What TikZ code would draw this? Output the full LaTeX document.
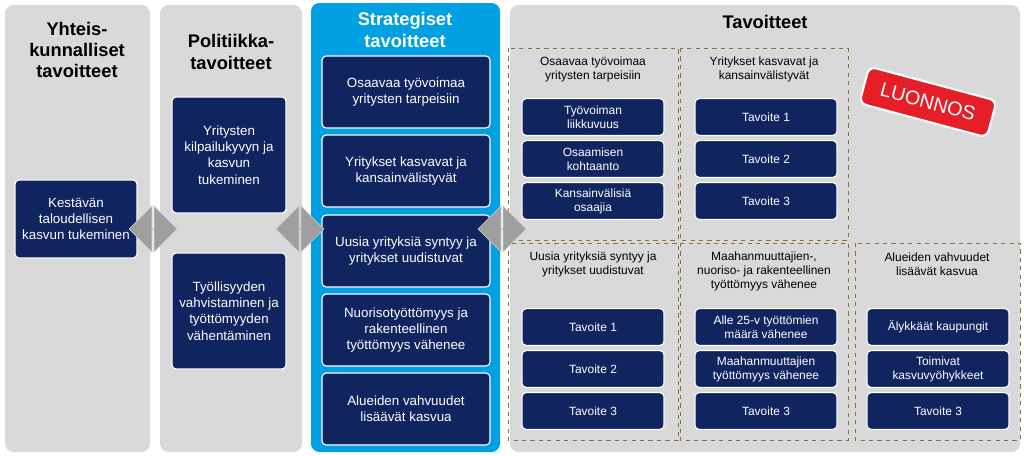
\documentclass[tikz,border=0pt]{standalone}
\usepackage{fontspec}
\setmainfont{Liberation Sans}
\usetikzlibrary{shapes.arrows}
\definecolor{navy}{RGB}{16,36,96}
\definecolor{panelgray}{RGB}{217,217,217}
\definecolor{stratblue}{RGB}{0,160,227}
\definecolor{dashbrown}{RGB}{140,110,60}
\definecolor{stampred}{RGB}{230,30,40}
\begin{document}
\begin{tikzpicture}[x=0.025cm, y=-0.025cm,
  panel/.style={fill=panelgray, rounded corners=6pt, draw=none},
  goal/.style={fill=navy, draw=white, line width=0.8pt, rounded corners=3pt, text=white, align=center, font=\fontsize{9.5}{11.5}\selectfont},
  subgoal/.style={goal, font=\fontsize{8.5}{10}\selectfont, minimum width=3.55cm, minimum height=0.92cm},
  heading/.style={font=\bfseries\fontsize{13}{15}\selectfont, align=center},
  group/.style={draw=dashbrown, dashed, line width=0.7pt},
  grouptitle/.style={font=\fontsize{8.5}{10}\selectfont, align=center},
  link/.style={double arrow, fill=gray!75, draw=gray!40, minimum height=1.2cm, minimum width=1.15cm, double arrow head extend=0.25cm, double arrow head indent=0pt, inner sep=0pt}]
  \useasboundingbox (0,0) rectangle (1024,455);
  % columns
  \fill[panel] (5,5) rectangle (150,452);
  \fill[panel] (160,5) rectangle (302,452);
  \fill[stratblue, rounded corners=6pt] (311,3) rectangle (500,452);
  \fill[panel] (510,5) rectangle (1020,452);
  \node[heading] (htitle1) at (77,50) {Yhteis-\\kunnalliset\\tavoitteet};
  \node[heading] (htitle2) at (231,52) {Politiikka-\\tavoitteet};
  \node[heading, text=white] (htitle3) at (405,30) {Strategiset\\tavoitteet};
  \node[heading] (htitle4) at (765,22) {Tavoitteet};
  % level 1 and 2
  \node[goal, minimum width=3.05cm, minimum height=1.95cm] (kestava) at (76,219) {Kestävän\\taloudellisen\\kasvun tukeminen};
  \node[goal, minimum width=2.85cm, minimum height=2.9cm] (kilpailu) at (229,155) {Yritysten\\kilpailukyvyn ja\\kasvun\\tukeminen};
  \node[goal, minimum width=2.85cm, minimum height=2.9cm] (tyollisyys) at (229,311) {Työllisyyden\\vahvistaminen ja\\työttömyyden\\vähentäminen};
  % strategic goals
  \foreach \y/\name/\txt in {92/s1/{Osaavaa työvoimaa\\yritysten tarpeisiin},
    171/s2/{Yritykset kasvavat ja\\kansainvälistyvät},
    251/s3/{Uusia yrityksiä syntyy ja\\yritykset uudistuvat},
    330/s4/{Nuorisotyöttömyys ja\\rakenteellinen\\työttömyys vähenee},
    409/s5/{Alueiden vahvuudet\\lisäävät kasvua}}
    \node[goal, minimum width=4.2cm, minimum height=1.8cm] (\name) at (406,\y) {\txt};
  % groups
  \draw[group] (508,48) rectangle (678,240);
  \draw[group] (680,48) rectangle (848,240);
  \draw[group] (508,243) rectangle (678,440);
  \draw[group] (680,243) rectangle (848,440);
  \draw[group] (855,243) rectangle (1020,440);
  \node[grouptitle] (ga) at (593,69) {Osaavaa työvoimaa\\yritysten tarpeisiin};
  \node[grouptitle] (gb) at (764,69) {Yritykset kasvavat ja\\kansainvälistyvät};
  \node[grouptitle] (gc) at (593,264) {Uusia yrityksiä syntyy ja\\yritykset uudistuvat};
  \node[grouptitle] (gd) at (764,271) {Maahanmuuttajien-,\\nuoriso- ja rakenteellinen\\työttömyys vähenee};
  \node[grouptitle] (ge) at (937,264) {Alueiden vahvuudet\\lisäävät kasvua};
  \node[subgoal] (a1) at (593,117) {Työvoiman\\liikkuvuus};
  \node[subgoal] (a2) at (593,159) {Osaamisen\\kohtaanto};
  \node[subgoal] (a3) at (593,201) {Kansainvälisiä\\osaajia};
  \foreach \i/\y in {1/117,2/159,3/201}
    \node[subgoal] (b\i) at (766,\y) {Tavoite \i};
  \foreach \i/\y in {1/327,2/369,3/411}
    \node[subgoal] (c\i) at (593,\y) {Tavoite \i};
  \node[subgoal] (d1) at (766,327) {Alle 25-v työttömien\\määrä vähenee};
  \node[subgoal] (d2) at (766,369) {Maahanmuuttajien\\työttömyys vähenee};
  \node[subgoal] (d3) at (766,411) {Tavoite 3};
  \node[subgoal] (e1) at (938,327) {Älykkäät kaupungit};
  \node[subgoal] (e2) at (938,369) {Toimivat\\kasvuvyöhykkeet};
  \node[subgoal] (e3) at (938,411) {Tavoite 3};
  % links
  \node[link] (l1) at (153,229) {};
  \node[link] (l2) at (300,229) {};
  \node[link] (l3) at (502,229) {};
  % stamp
  \node[fill=stampred, draw=white, line width=1.5pt, rounded corners=5pt, rotate=-15, text=white, font=\fontsize{14}{16}\selectfont, minimum width=3.3cm, minimum height=0.95cm] (stamp) at (928,102) {LUONNOS};
\end{tikzpicture}
\end{document}
